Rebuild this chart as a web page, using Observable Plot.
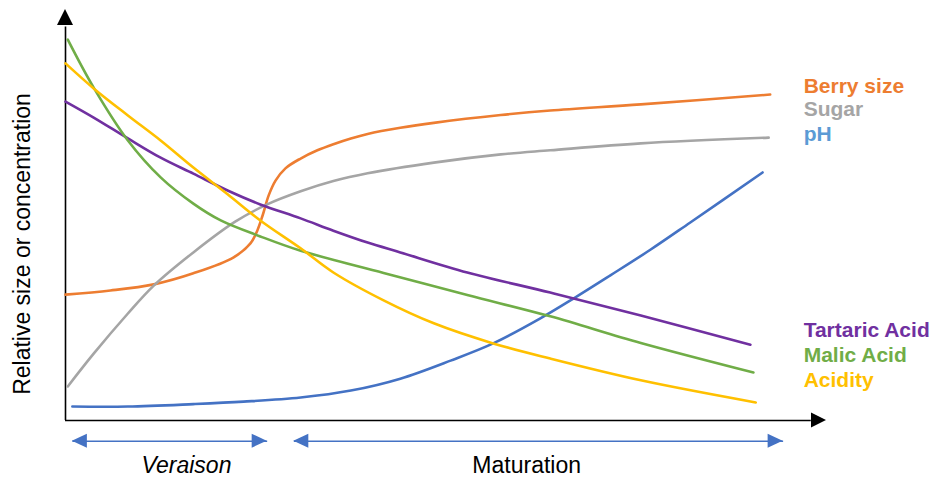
<!DOCTYPE html>
<html>
<head>
<meta charset="utf-8">
<script src="https://cdn.jsdelivr.net/npm/d3@7"></script>
<script src="https://cdn.jsdelivr.net/npm/@observablehq/plot@0.6"></script>
<style>
  html, body { margin: 0; padding: 0; background: #fff; }
  #chart { width: 936px; height: 477px; }
</style>
</head>
<body>
<div id="chart"></div>
<script>
// ---- Data (relative time 0–100, relative level 0–100) ----
const seriesNames = ["Berry size", "Sugar", "pH", "Tartaric Acid", "Malic Acid", "Acidity"];
const lineColors  = ["#ED7D31", "#A5A5A5", "#4472C4", "#7030A0", "#70AD47", "#FFC000"];
const labelColors = ["#ED7D31", "#A5A5A5", "#5B9BD5", "#7030A0", "#70AD47", "#FFC000"];

const berrySize = [[0,30.7],[5.9,31.7],[11.6,33.2],[16.8,35.9],[22.1,39.8],[24.3,43.2],[25.2,46.3],[25.9,50.0],[26.7,54.9],[27.6,58.5],[28.9,61.5],[30.9,63.9],[33.1,65.9],[35.2,67.4],[37.5,68.8],[39.7,69.9],[44.0,71.4],[48.4,72.6],[57.2,74.5],[63.7,75.6],[75.6,77.1],[92.6,79.5]];
const sugar = [[0.3,8.3],[3.7,16.3],[8.2,26.1],[11.6,32.9],[16.8,41.0],[22.3,48.5],[26.5,52.7],[30.9,55.9],[35.2,58.4],[39.7,60.3],[48.4,62.9],[57.2,64.9],[63.7,65.9],[75.6,67.6],[92.4,69.0]];
const pH = [[0.9,3.4],[8.2,3.4],[16.8,4.0],[23.4,4.6],[30.9,5.6],[37.5,7.3],[44.0,10.2],[50.6,14.6],[56.2,18.8],[62.4,24.9],[66.8,29.8],[71.6,35.4],[76.9,41.7],[82.1,48.3],[91.6,60.5]];
const tartaricAcid = [[0,77.8],[3.7,73.9],[8.2,68.8],[12.5,64.1],[16.8,60.2],[21.3,56.1],[25.6,52.7],[30.9,49.3],[35.2,46.3],[39.7,43.4],[44.0,41.0],[52.8,36.1],[63.7,31.2],[75.6,25.6],[90.0,18.5]];
const malicAcid = [[0.3,92.9],[3.7,81.2],[8.2,68.3],[12.5,59.3],[16.8,52.9],[20.4,48.8],[25.6,44.9],[30.9,41.4],[41.8,36.0],[52.8,30.6],[63.7,25.4],[75.6,18.9],[90.4,11.7]];
const acidity = [[0,87.1],[3.7,81.0],[8.2,74.4],[12.5,68.3],[16.8,61.7],[21.3,55.2],[25.6,48.8],[30.9,42.0],[35.2,36.1],[41.8,29.3],[48.4,23.7],[56.2,18.8],[63.7,15.1],[75.6,9.8],[90.7,4.4]];

const phaseNames = ["Veraison", "Maturation"];
const phaseStart = [0.9, 30.0];
const phaseEnd   = [26.5, 94.3];
const phaseLabelX = [15.9, 60.6];

const yLabel = "Relative size or concentration";

// ---- Build tables ----
const seriesPoints = [berrySize, sugar, pH, tartaricAcid, malicAcid, acidity];
const rows = seriesNames.flatMap((name, i) => seriesPoints[i].map(([x, y]) => ({series: name, x, y})));

// label layout (vertical centre of each series label, in y units)
const labelY = [81.6, 75.8, 69.9, 22.0, 16.0, 9.9];
const labelRows = seriesNames.map((name, i) => ({name, y: labelY[i], color: labelColors[i]}));
const phaseRows = phaseNames.map((name, i) => ({name, x1: phaseStart[i], x2: phaseEnd[i], lx: phaseLabelX[i]}));

const arrowLevel = -5.05;
const phaseLabelLevel = -11.1;

const plot = Plot.plot({
  width: 936,
  height: 477,
  marginLeft: 65,
  marginRight: 110,
  marginTop: 10,
  marginBottom: 57,
  x: {domain: [0, 100], axis: null},
  y: {domain: [0, 100], axis: null},
  color: {domain: seriesNames, range: lineColors},
  style: {fontFamily: "'Liberation Sans', Arial, sans-serif", background: "#fff"},
  marks: [
    Plot.ruleX([0], {y1: 0, y2: 96, stroke: "#000", strokeWidth: 1.6}),
    Plot.ruleY([0], {x1: 0, x2: 98, stroke: "#000", strokeWidth: 1.6}),
    Plot.line(rows, {x: "x", y: "y", z: "series", stroke: "series", strokeWidth: 2.6, curve: "catmull-rom"}),
    Plot.text(labelRows, {x: () => 97, y: "y", text: "name", fill: d => d.color, textAnchor: "start", lineAnchor: "middle", fontSize: 21, fontWeight: "bold"}),
    Plot.link(phaseRows, {x1: "x1", x2: "x2", y1: () => arrowLevel, y2: () => arrowLevel, stroke: "#4472C4", strokeWidth: 1.6}),
    Plot.text(phaseRows.filter(d => d.name === "Veraison"), {x: "lx", y: () => phaseLabelLevel, text: "name", fontSize: 23, fontStyle: "italic", fill: "#000", lineAnchor: "middle"}),
    Plot.text(phaseRows.filter(d => d.name !== "Veraison"), {x: "lx", y: () => phaseLabelLevel, text: "name", fontSize: 23, fill: "#000", lineAnchor: "middle"})
  ]
});
plot.setAttribute("color", null);

const X = plot.scale("x"), Y = plot.scale("y");
const sx = v => X.apply(v), sy = v => Y.apply(v);
const svg = d3.select(plot);
const g = svg.append("g");

function head(tipX, tipY, dir, len, half, fill) {
  let pts;
  if (dir === "up") pts = [[tipX, tipY], [tipX - half, tipY + len], [tipX + half, tipY + len]];
  else if (dir === "right") pts = [[tipX, tipY], [tipX - len, tipY - half], [tipX - len, tipY + half]];
  else pts = [[tipX, tipY], [tipX + len, tipY - half], [tipX + len, tipY + half]];
  g.append("polygon").attr("points", pts.map(p => p.join(",")).join(" ")).attr("fill", fill);
}
// axis arrowheads
head(sx(0), sy(100) - 1, "up", 16, 8, "#000");
head(sx(100), sy(0), "right", 15, 7.5, "#000");
// phase arrowheads
phaseRows.forEach(d => {
  head(sx(d.x1), sy(arrowLevel), "left", 15, 7, "#4472C4");
  head(sx(d.x2), sy(arrowLevel), "right", 15, 7, "#4472C4");
});
// y label
svg.append("text")
  .attr("transform", `translate(30, 244) rotate(-90)`)
  .attr("text-anchor", "middle")
  .attr("font-size", 23)
  .attr("fill", "#000")
  .text(yLabel);

document.getElementById("chart").appendChild(plot);
</script>
</body>
</html>
